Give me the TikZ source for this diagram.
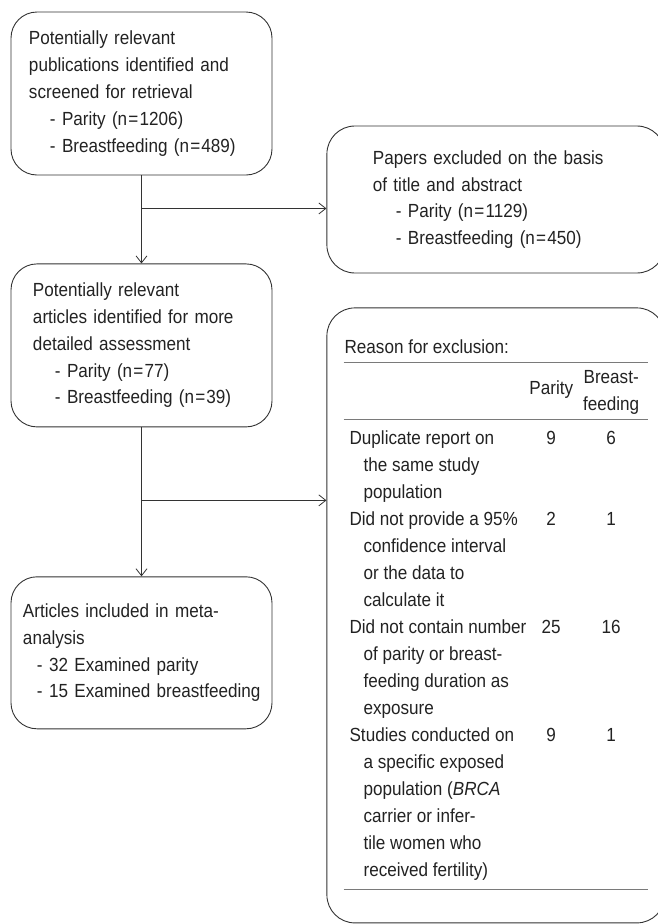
\documentclass[tikz,border=0pt]{standalone}
\usepackage[dvipsnames,table]{xcolor}
\usepackage{fontspec}
\setmainfont{Liberation Sans}[FakeStretch=0.9]
\usepackage{tikz}
\usetikzlibrary{positioning, arrows.meta, calc}
\definecolor{flowline}{HTML}{333333}
\definecolor{flowtext}{HTML}{222222}
\definecolor{rulegray}{HTML}{7A7A7A}
\newcommand{\eqsp}{\kern1.2pt=\kern1.2pt}

\begin{document}
\begin{tikzpicture}[
    node distance=88pt and 54pt,
    every node/.style={font=\fontsize{19pt}{26.8pt}\selectfont, text=flowtext},
    flowbox/.style={
        rectangle, rounded corners=26pt, draw=flowline, line width=0.9pt,
        minimum width=261pt, minimum height=163pt, inner sep=0pt, align=left
    },
    sidebox/.style={
        rectangle, rounded corners=28pt, draw=flowline, line width=0.9pt,
        minimum width=338pt, inner sep=0pt, align=left
    },
    arr/.style={-{Straight Barb[length=7pt, width=11pt]}, line width=0.8pt, color=flowline},
]
\useasboundingbox (-141.5pt,93.5pt) rectangle (516.5pt,-830.5pt);
\clip (-141.5pt,93.5pt) rectangle (516.5pt,-830.5pt);

% Main column (left)
\node[flowbox, text width=225pt] (pub) {Potentially relevant\\publications identified and\\screened for retrieval\\
    \hspace*{21pt}- Parity (n\eqsp1206)\\\hspace*{21pt}- Breastfeeding (n\eqsp489)};
\node[flowbox, text width=217pt, below=of pub] (art) {Potentially relevant\\articles identified for more\\detailed assessment\\
    \hspace*{22pt}- Parity (n\eqsp77)\\\hspace*{22pt}- Breastfeeding (n\eqsp39)};
\node[flowbox, text width=237pt, minimum height=152pt, below=149pt of art] (incl) {Articles included in meta-\\analysis\\
    \hspace*{14pt}- 32 Examined parity\\\hspace*{14pt}\mbox{- 15 Examined breastfeeding}};

% Exclusions (right)
\node[sidebox, text width=246pt, minimum height=147pt, below right=114pt and 54pt of pub.north east] (excl)
    {Papers excluded on the basis\\of title and abstract\\
    \hspace*{23pt}- Parity (n\eqsp1129)\\\hspace*{23pt}- Breastfeeding (n\eqsp450)};
\node[sidebox, minimum height=615pt, below=34pt of excl] (reas) {%
    \arrayrulecolor{rulegray}\setlength{\arrayrulewidth}{1pt}\def\arraystretch{1.006}%
    \begin{tabular}{@{\hspace{6pt}}l@{\hspace{3pt}}c@{\hspace{10pt}}c@{\hspace{9pt}}}
    \multicolumn{3}{@{\hspace{1pt}}l}{Reason for exclusion:}\\ \hline
     & Parity & \begin{tabular}{@{}c@{}}\rule{0pt}{21pt}Breast-\\feeding\end{tabular}\\ \hline
    \rule{0pt}{25pt}Duplicate report on & 9 & 6\\
    \hspace*{14pt}the same study & & \\
    \hspace*{14pt}population & & \\
    Did not provide a 95\% & 2 & 1\\
    \hspace*{14pt}confidence interval & & \\
    \hspace*{14pt}or the data to & & \\
    \hspace*{14pt}calculate it & & \\
    Did not contain number & 25 & 16\\
    \hspace*{14pt}of parity or breast- & & \\
    \hspace*{14pt}feeding duration as & & \\
    \hspace*{14pt}exposure & & \\
    Studies conducted on & 9 & 1\\
    \hspace*{14pt}a specific exposed & & \\
    \hspace*{14pt}population (\textit{BRCA} & & \\
    \hspace*{14pt}carrier or infer- & & \\
    \hspace*{14pt}tile women who & & \\
    \hspace*{14pt}received fertility) & & \\[5pt] \hline
    \noalign{\vskip6pt}
    \end{tabular}};

% ── Arrows ──
\coordinate (j1) at ($(pub.south)!0.375!(art.north)$);
\coordinate (j2) at ($(art.south)!0.49!(incl.north)$);
\draw[arr] (pub.south) -- (art.north);
\draw[arr] (j1) -- (j1 -| excl.west);
\draw[arr] (art.south) -- (incl.north);
\draw[arr] (j2) -- (j2 -| reas.west);

\end{tikzpicture}
\end{document}
